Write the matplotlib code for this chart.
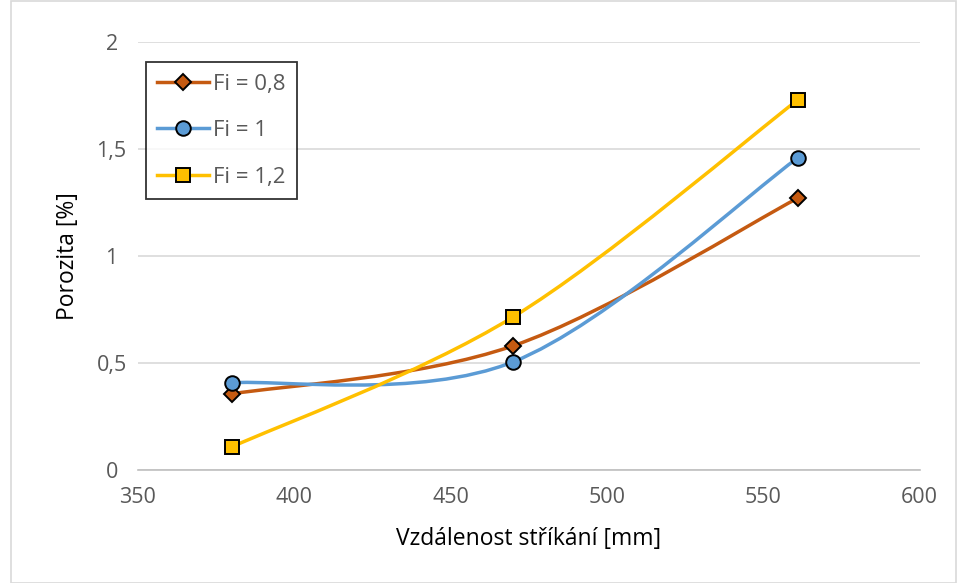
import matplotlib
matplotlib.use("Agg")
import numpy as np
import matplotlib.pyplot as plt
from matplotlib.path import Path
from matplotlib.patches import PathPatch, Rectangle
from matplotlib.lines import Line2D

# data
distance = [380, 470, 561]
fi_08 = [0.355, 0.58, 1.27]
fi_10 = [0.407, 0.505, 1.458]
fi_12 = [0.107, 0.715, 1.729]

series = [
    ("Fi = 0,8", fi_08, "#C55A11", "D", 8),
    ("Fi = 1", fi_10, "#5B9BD5", "o", 10.5),
    ("Fi = 1,2", fi_12, "#FFC000", "s", 10),
]

plt.rcParams['font.family'] = ['Open Sans', 'DejaVu Sans']


def smooth_path(xs, ys):
    """ Bezier path like Excel's smoothed line (Catmull-Rom control points). """
    pts = np.column_stack([xs, ys]).astype(float)
    ext = np.vstack([pts[0], pts, pts[-1]])
    verts = [pts[0]]
    codes = [Path.MOVETO]
    for i in range(len(pts) - 1):
        p0, p1, p2, p3 = ext[i], ext[i + 1], ext[i + 2], ext[i + 3]
        c1 = p1 + (p2 - p0) / 6
        c2 = p2 - (p3 - p1) / 6
        verts += [c1, c2, p2]
        codes += [Path.CURVE4] * 3
    return Path(verts, codes)


fig = plt.figure(figsize=(9.58, 5.83), dpi=100)
ax = fig.add_axes([0.144, 0.194, 0.816, 0.734])

handles = []
for label, vals, color, marker, ms in series:
    patch = PathPatch(smooth_path(distance, vals), facecolor='none', edgecolor=color,
                      lw=2.5, capstyle='round', zorder=3)
    ax.add_patch(patch)
    ax.plot(distance, vals, linestyle='none', marker=marker, markersize=ms,
            markerfacecolor=color, markeredgecolor='black', markeredgewidth=1.4, zorder=4)
    handles.append(Line2D([], [], color=color, lw=2.5, marker=marker, markersize=ms,
                          markerfacecolor=color, markeredgecolor='black', markeredgewidth=1.4))

ax.set_xlim(350, 600)
ax.set_ylim(0, 2)
ax.set_xticks([350, 400, 450, 500, 550, 600])
ax.set_yticks([0, 0.5, 1, 1.5, 2])
ax.set_yticklabels(["0", "0,5", "1", "1,5", "2"])
ax.grid(axis='y', color='#d9d9d9', lw=1.2)
ax.set_axisbelow(True)
for side in ['left', 'right', 'top']:
    ax.spines[side].set_visible(False)
ax.spines['bottom'].set_color('#bfbfbf')
ax.spines['bottom'].set_linewidth(1.2)
ax.tick_params(length=0, labelsize=15.5, colors='#595959')
ax.tick_params(axis='x', pad=12)
ax.tick_params(axis='y', pad=19)
for lbl in ax.get_yticklabels():
    lbl.set_horizontalalignment('center')

ax.set_xlabel("Vzdálenost stříkání [mm]", fontsize=16.5, labelpad=14)
ax.set_ylabel("Porozita [%]", fontsize=16.5, labelpad=12)

leg = ax.legend(handles, [s[0] for s in series], loc='upper left',
                bbox_to_anchor=(0.0102, 0.953), borderaxespad=0, fontsize=16,
                frameon=True, fancybox=False, edgecolor='black', handlelength=2.3,
                labelspacing=1.15, borderpad=0.52, handletextpad=0.2, labelcolor='#595959')
leg.get_frame().set_linewidth(1.3)

# light border around the whole chart area
fig.patches.append(Rectangle((0.011, 0.0), 0.987, 0.999, transform=fig.transFigure,
                             fill=False, edgecolor='#d9d9d9', lw=1.2))

fig.savefig("out.png", dpi=100)
